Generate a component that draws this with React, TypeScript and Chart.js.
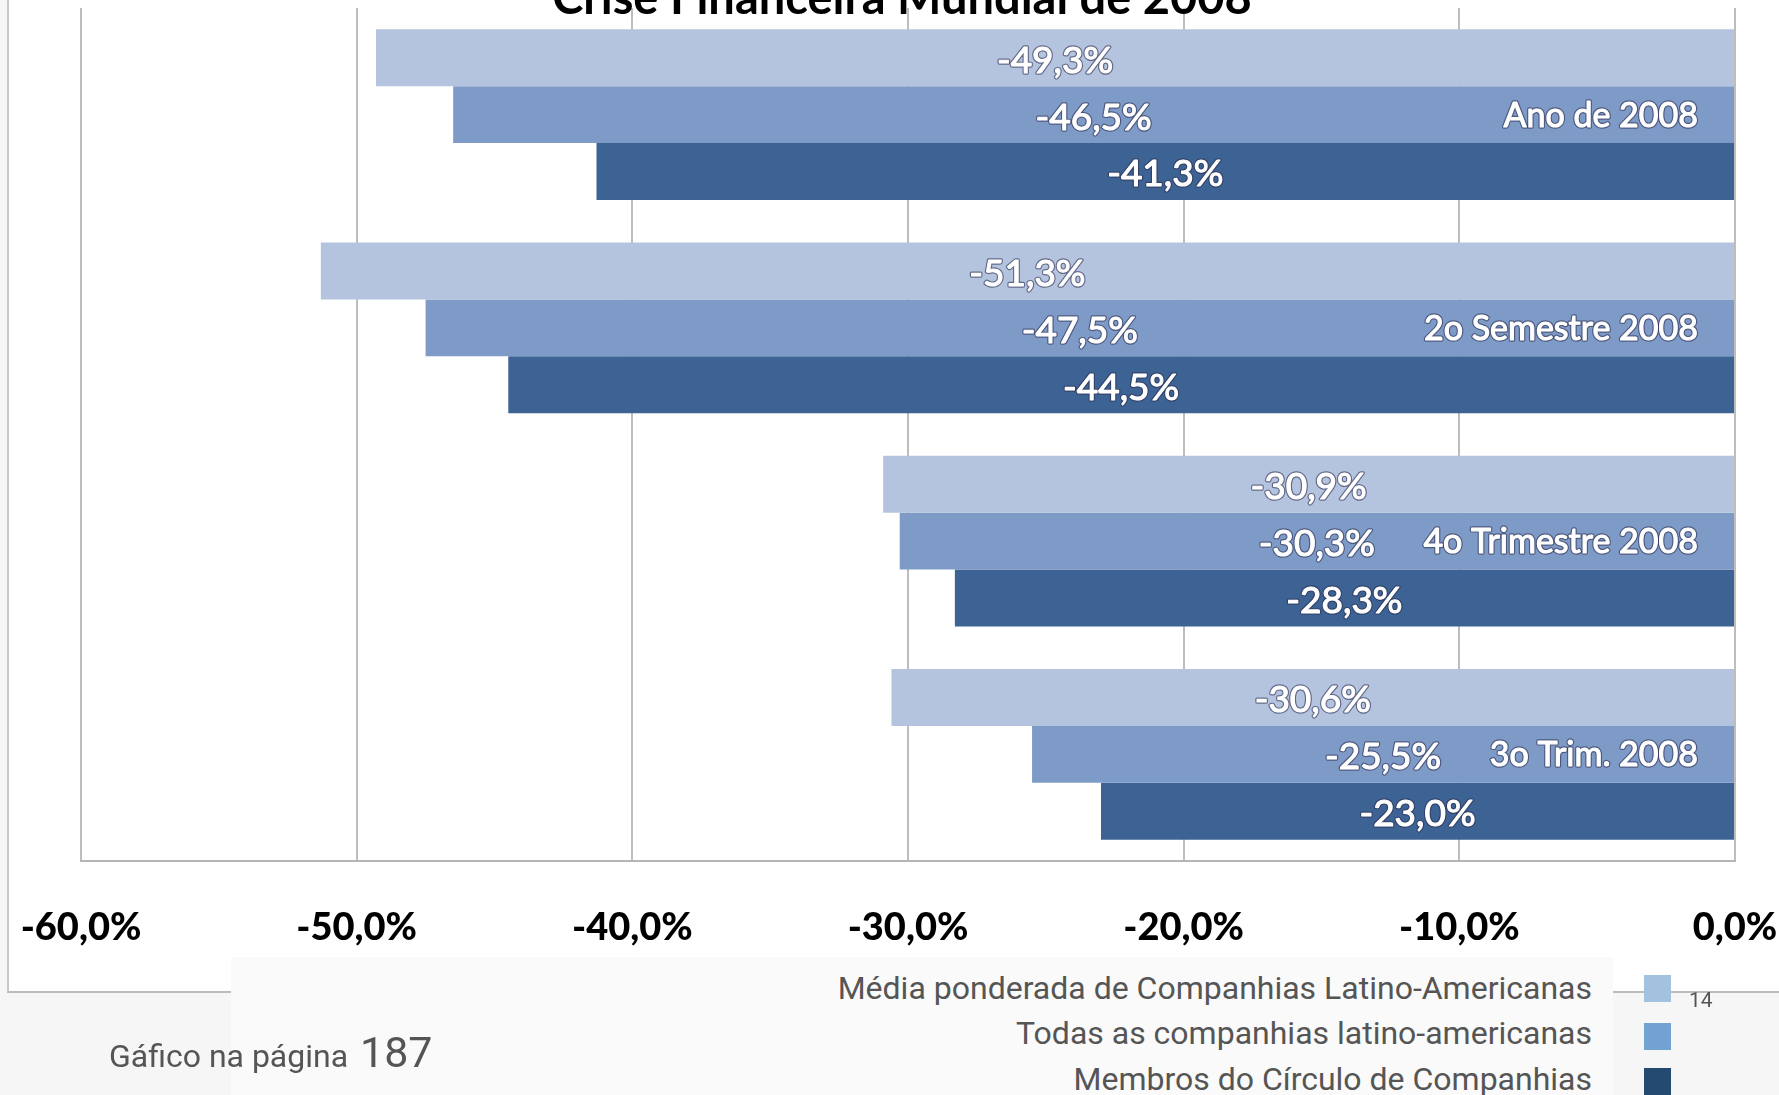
import React, { useEffect, useRef } from "react";
import { Chart, registerables } from "chart.js";

Chart.register(...registerables);

const chartTitle = "Crise Financeira Mundial de 2008";
const categories = ["Ano de 2008", "2o Semestre 2008", "4o Trimestre 2008", "3o Trim. 2008"];
const seriesNames = [
  "Média ponderada de Companhias Latino-Americanas",
  "Todas as companhias latino-americanas",
  "Membros do Círculo de Companhias",
];
const mediaPonderada = [-49.3, -51.3, -30.9, -30.6];
const todasCompanhias = [-46.5, -47.5, -30.3, -25.5];
const membrosCirculo = [-41.3, -44.5, -28.3, -23.0];
const xMin = -60;
const xMax = 0;
const xStep = 10;
const barColors = ["rgb(181,196,222)", "rgb(126,155,199)", "rgb(60,99,148)"];
const legendColors = ["#a3c2e0", "#72a2d2", "#244a71"];
const footerText = "Gáfico na página";
const footerPage = "187";
const pageNumber = "14";

const fmt = (v: number) => {
  const n = Math.abs(v) < 1e-9 ? 0 : v;
  return n.toFixed(1).replace(".", ",") + "%";
};

const drawOutlined = (ctx: CanvasRenderingContext2D, t: string, x: number, y: number) => {
  ctx.strokeStyle = "rgba(45,45,80,0.6)";
  ctx.lineWidth = 3.5;
  ctx.strokeText(t, x, y);
  ctx.fillStyle = "#ffffff";
  ctx.fillText(t, x, y);
  ctx.strokeStyle = "#ffffff";
  ctx.lineWidth = 1.1;
  ctx.strokeText(t, x, y);
};

const textPlugin = {
  id: "customTexts",
  afterDatasetsDraw(chart: any) {
    const ctx = chart.ctx as CanvasRenderingContext2D;
    const area = chart.chartArea;
    ctx.save();
    // value labels
    ctx.font = "normal 37px Lato";
    ctx.textAlign = "center";
    ctx.textBaseline = "middle";
    ctx.lineJoin = "round";
    chart.data.datasets.forEach((ds: any, i: number) => {
      const meta = chart.getDatasetMeta(i);
      meta.data.forEach((bar: any, j: number) => {
        const cx = (bar.x + bar.base) / 2;
        const cy = bar.y + 3;
        drawOutlined(ctx, fmt(ds.data[j]), cx, cy);
      });
    });
    // category labels
    const yScale = chart.scales.y;
    ctx.font = "normal 34px Lato";
    ctx.textAlign = "right";
    categories.forEach((c, i) => {
      const y = yScale.getPixelForValue(i) + 1;
      const x = area.right - 37;
      drawOutlined(ctx, c, x, y);
    });
    // title (partly cut off at top)
    ctx.font = "bold 47px Lato";
    ctx.textAlign = "center";
    ctx.textBaseline = "alphabetic";
    ctx.fillStyle = "#000000";
    ctx.fillText(chartTitle, (area.left + area.right) / 2 - 6, 14);
    ctx.restore();
  },
};

export default function App() {
  const ref = useRef<HTMLCanvasElement>(null);
  useEffect(() => {
    const chart = new Chart(ref.current as HTMLCanvasElement, {
      type: "bar",
      data: {
        labels: categories,
        datasets: [
          { label: seriesNames[0], data: mediaPonderada, backgroundColor: barColors[0] },
          { label: seriesNames[1], data: todasCompanhias, backgroundColor: barColors[1] },
          { label: seriesNames[2], data: membrosCirculo, backgroundColor: barColors[2] },
        ],
      },
      options: {
        indexAxis: "y",
        responsive: false,
        animation: false,
        datasets: { bar: { categoryPercentage: 0.8, barPercentage: 1.0 } },
        layout: { padding: { left: 81, right: 44, top: 8, bottom: 0 } },
        scales: {
          x: {
            type: "linear",
            min: xMin,
            max: xMax,
            ticks: {
              stepSize: xStep,
              callback: (v: any) => fmt(Number(v)),
              color: "#000000",
              font: { family: "Lato", size: 38, weight: 900 },
              padding: 0,
              maxRotation: 0,
            },
            grid: {
              color: "#bdbdbd",
              lineWidth: 2,
              drawTicks: true,
              tickLength: 44,
              tickColor: "rgba(0,0,0,0)",
            },
            border: { display: true, color: "#b5b5b5", width: 2 },
            afterFit: (s: any) => {
              s.height = 100;
            },
          },
          y: { type: "category", display: false, grid: { display: false } },
        },
        plugins: {
          legend: { display: false },
          tooltip: { enabled: false },
          title: { display: false },
        },
      } as any,
      plugins: [textPlugin],
    });
    return () => chart.destroy();
  }, []);

  const legendTops = [972, 1017, 1063];
  const swatchTops = [975, 1023, 1068];

  return (
    <div
      style={{
        position: "fixed",
        left: 0,
        top: 0,
        width: 1779,
        height: 1095,
        background: "#f6f6f6",
        overflow: "hidden",
        fontFamily: "Roboto, sans-serif",
      }}
    >
      <div
        style={{
          position: "absolute",
          left: 7,
          top: -10,
          width: 1800,
          height: 1001,
          background: "#ffffff",
          borderLeft: "2px solid #c6c6c6",
          borderBottom: "2px solid #bcbcbc",
        }}
      />
      <canvas
        ref={ref}
        width={1779}
        height={961}
        style={{ position: "absolute", left: 0, top: 0, width: 1779, height: 961 }}
      />
      <div
        style={{
          position: "absolute",
          left: 231,
          top: 957,
          width: 1382,
          height: 140,
          background: "#fafafa",
        }}
      />
      {seriesNames.map((s, i) => (
        <div
          key={s}
          style={{
            position: "absolute",
            right: 1779 - 1592,
            top: legendTops[i],
            fontSize: 32,
            lineHeight: "32px",
            color: "#555555",
            whiteSpace: "nowrap",
          }}
        >
          {s}
        </div>
      ))}
      {legendColors.map((c, i) => (
        <div
          key={c}
          style={{
            position: "absolute",
            left: 1644,
            top: swatchTops[i],
            width: 27,
            height: 27,
            background: c,
          }}
        />
      ))}
      <div
        style={{
          position: "absolute",
          left: 1689,
          top: 990,
          fontSize: 21,
          lineHeight: "21px",
          color: "#555555",
        }}
      >
        {pageNumber}
      </div>
      <div
        style={{
          position: "absolute",
          left: 109,
          top: 1040,
          fontSize: 32,
          lineHeight: "32px",
          color: "#555555",
          whiteSpace: "nowrap",
        }}
      >
        {footerText}
      </div>
      <div
        style={{
          position: "absolute",
          left: 360,
          top: 1031,
          fontSize: 43,
          lineHeight: "43px",
          color: "#555555",
        }}
      >
        {footerPage}
      </div>
    </div>
  );
}
